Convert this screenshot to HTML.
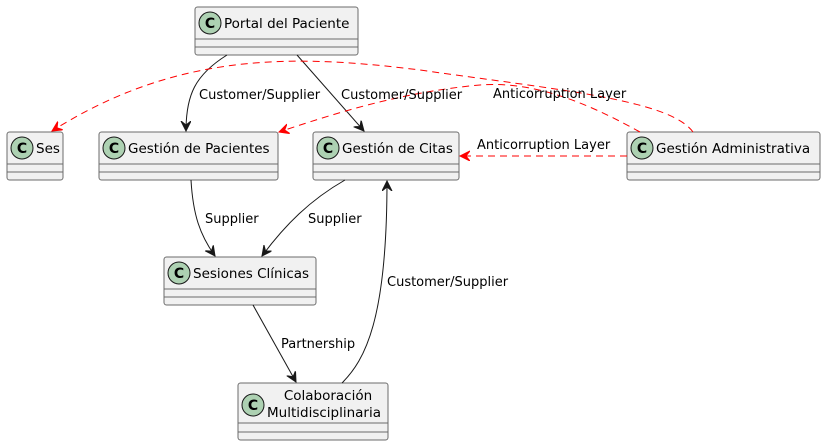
<html><head><style>body{margin:0;background:#fff}</style></head><body>
<svg width="827" height="446" xmlns="http://www.w3.org/2000/svg" font-family="'DejaVu Sans', 'Liberation Sans', sans-serif">
<defs>
<marker id="a" markerWidth="12" markerHeight="12" refX="10" refY="5" orient="auto" markerUnits="userSpaceOnUse"><path d="M0,0 L10,5 L0,10 L4,5 Z" fill="#181818" stroke="#181818" stroke-width="1"/></marker>
<marker id="r" markerWidth="12" markerHeight="12" refX="10" refY="5" orient="auto" markerUnits="userSpaceOnUse"><path d="M0,0 L10,5 L0,10 L4,5 Z" fill="#FF0000" stroke="#FF0000" stroke-width="1"/></marker>
<g id="c"><circle r="11" fill="#ADD1B2" stroke="#181818" stroke-width="1"/><text x="0" y="5" text-anchor="middle" font-size="14" font-weight="bold" fill="#000">C</text></g>
</defs>
<g fill="#F1F1F1" stroke="#6b6b6b" stroke-width="1">
<rect x="195" y="7" width="163" height="48" rx="2.5"/>
<rect x="7" y="132" width="56" height="48" rx="2.5"/>
<rect x="99" y="132" width="179" height="48" rx="2.5"/>
<rect x="313" y="132" width="146" height="48" rx="2.5"/>
<rect x="627" y="132" width="193" height="48" rx="2.5"/>
<rect x="164" y="257" width="152" height="48" rx="2.5"/>
<rect x="238" y="383" width="150" height="57" rx="2.5"/>
</g>
<g stroke="#6b6b6b" stroke-width="1">
<path d="M195,39H358M195,47H358M7,164H63M7,172H63M99,164H278M99,172H278M313,164H459M313,172H459M627,164H820M627,172H820M164,289H316M164,297H316M238,423H388M238,432H388"/>
</g>
<use href="#c" x="210" y="23"/><use href="#c" x="22" y="148"/><use href="#c" x="114" y="148"/><use href="#c" x="328" y="148"/><use href="#c" x="642" y="148"/><use href="#c" x="179" y="273"/><use href="#c" x="253" y="405"/>
<g font-size="13.5" fill="#000">
<text x="224" y="28">Portal del Paciente</text>
<text x="36" y="153">Ses</text>
<text x="128" y="153">Gestión de Pacientes</text>
<text x="342" y="153">Gestión de Citas</text>
<text x="656" y="153">Gestión Administrativa</text>
<text x="193" y="278">Sesiones Clínicas</text>
<text x="328" y="400" text-anchor="middle">Colaboración</text>
<text x="324" y="417" text-anchor="middle">Multidisciplinaria</text>
</g>
<g fill="none" stroke="#181818" stroke-width="1">
<path d="M227,55 C195,75 186,95 186,131" marker-end="url(#a)"/>
<path d="M297,55 L364,131" marker-end="url(#a)"/>
<path d="M191,180 C193,215 200,235 215,256" marker-end="url(#a)"/>
<path d="M345,180 C310,200 285,225 262,256" marker-end="url(#a)"/>
<path d="M253,305 L296,382" marker-end="url(#a)"/>
<path d="M342,383 C365,360 387,320 387,181" marker-end="url(#a)"/>
</g>
<g fill="none" stroke="#FF0000" stroke-width="1" stroke-dasharray="7,5">
<path d="M693,132 C670,100 560,90 420,70 C300,55 180,50 52,131" marker-end="url(#r)"/>
<path d="M640,132 C600,110 540,80 480,85 C400,92 330,115 279,132" marker-end="url(#r)"/>
<path d="M627,156 L460,156" marker-end="url(#r)"/>
</g>
<g font-size="13" fill="#000">
<text x="199" y="99">Customer/Supplier</text>
<text x="341" y="99">Customer/Supplier</text>
<text x="493" y="98">Anticorruption Layer</text>
<text x="477" y="149">Anticorruption Layer</text>
<text x="205" y="223">Supplier</text>
<text x="308" y="223">Supplier</text>
<text x="387" y="286">Customer/Supplier</text>
<text x="281" y="348">Partnership</text>
</g>
</svg>
</body></html>
